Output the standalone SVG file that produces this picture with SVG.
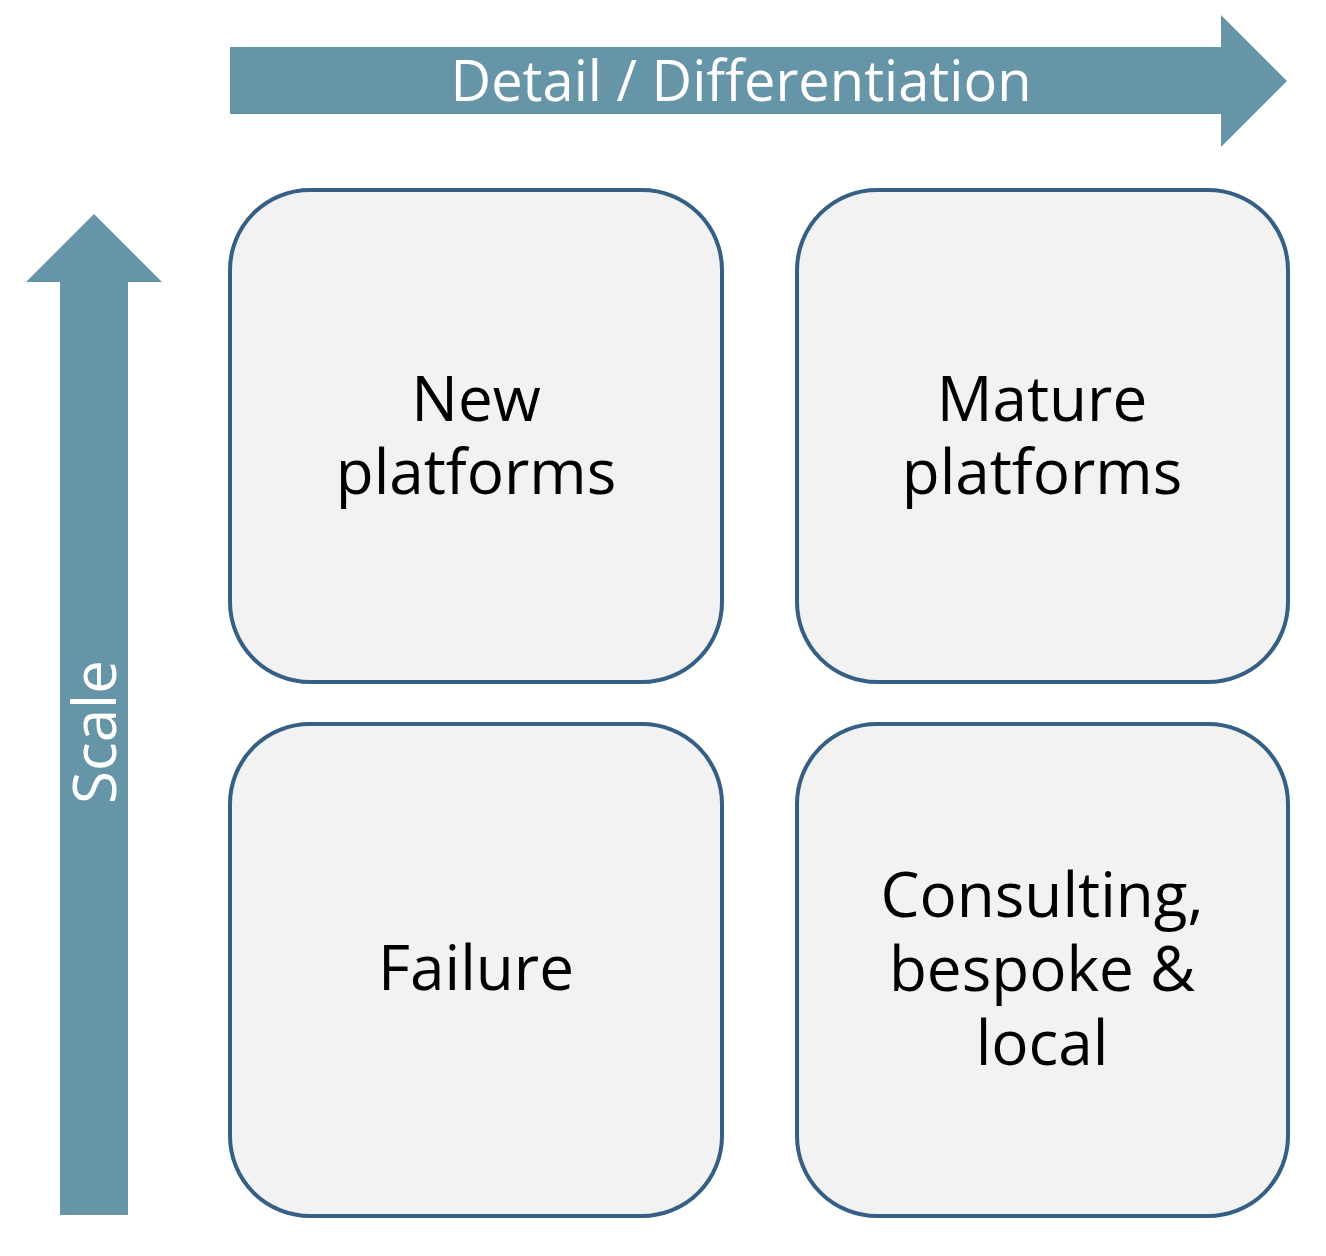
<svg xmlns="http://www.w3.org/2000/svg" width="1326" height="1256" viewBox="0 0 1326 1256">
<style>
.arrow{fill:#6795a8}
.box{fill:#f2f2f2;stroke:#355f84;stroke-width:4}
.lbl{font-family:"Open Sans","Noto Sans",sans-serif;font-size:62px;fill:#000;text-anchor:middle}
.axis{font-family:"Open Sans","Noto Sans",sans-serif;font-size:56px;fill:#fff;text-anchor:middle}
</style>
<rect width="1326" height="1256" fill="#fff"/>
<g id="connectors">
<g id="axis-x">
<polygon class="arrow" points="230,47 1221,47 1221,15 1287,81 1221,147 1221,114 230,114"/>
<text class="axis" x="741" y="101">Detail / Differentiation</text>
</g>
<g id="axis-y">
<polygon class="arrow" points="60,1215 60,282 26,282 94,214 162,282 128,282 128,1215"/>
<text class="axis" style="font-size:60px" transform="translate(116,732) rotate(-90)" x="0" y="0">Scale</text>
</g>
</g>
<g id="new-platforms">
<rect class="box" x="230" y="190" width="492" height="492" rx="80"/>
<text class="lbl"><tspan x="476" y="421">New</tspan><tspan x="476" y="494">platforms</tspan></text>
</g>
<g id="mature-platforms">
<rect class="box" x="797" y="190" width="491" height="492" rx="80"/>
<text class="lbl"><tspan x="1042" y="421">Mature</tspan><tspan x="1042" y="494">platforms</tspan></text>
</g>
<g id="failure">
<rect class="box" x="230" y="724" width="492" height="492" rx="80"/>
<text class="lbl" x="476" y="990">Failure</text>
</g>
<g id="consulting">
<rect class="box" x="797" y="724" width="491" height="492" rx="80"/>
<text class="lbl"><tspan x="1042" y="917">Consulting,</tspan><tspan x="1042" y="991">bespoke &amp;</tspan><tspan x="1042" y="1065">local</tspan></text>
</g>
</svg>
